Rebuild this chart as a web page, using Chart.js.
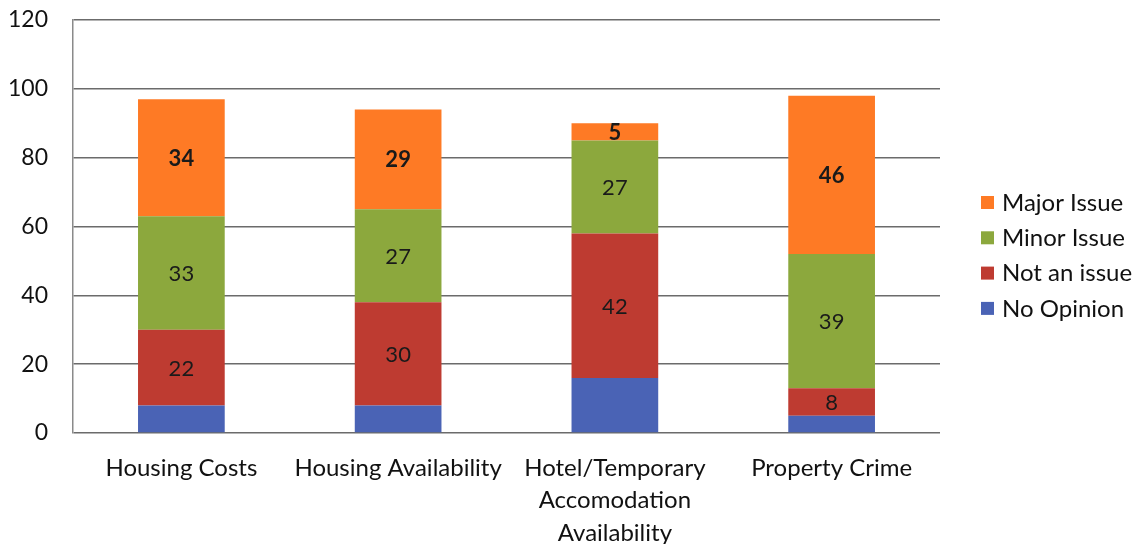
<!DOCTYPE html>
<html>
<head>
<meta charset="utf-8">
<script src="https://cdn.jsdelivr.net/npm/chart.js@4.4.1/dist/chart.umd.min.js"></script>
<style>
  html, body { margin: 0; padding: 0; background: #fff; }
  #wrap { width: 1134px; height: 544px; position: relative; }
</style>
</head>
<body>
<div id="wrap"><canvas id="issuesChart"></canvas></div>
<script>
// ------------------------------------
// Survey data
// ------------------------------------
const categories = [
    'Housing Costs',
    'Housing Availability',
    ['Hotel/Temporary', 'Accomodation', 'Availability'],
    'Property Crime'
];
const noOpinion  = [8, 8, 16, 5];
const notAnIssue = [22, 30, 42, 8];
const minorIssue = [33, 27, 27, 39];
const majorIssue = [34, 29, 5, 46];
const yTicks = [0, 20, 40, 60, 80, 100, 120];

const FONT = 'Lato, "Open Sans", sans-serif';

// ------------------------------------
// Value labels inside the stacked segments
// ------------------------------------
const segmentLabels = {
    id: 'segmentLabels',
    afterDatasetsDraw(chart) {
        const ctx = chart.ctx;
        chart.data.datasets.forEach((ds, i) => {
            if (!ds.showLabels) return;
            const meta = chart.getDatasetMeta(i);
            meta.data.forEach((bar, j) => {
                const mid = (bar.y + bar.base) / 2;
                ctx.save();
                ctx.font = (ds.boldLabels ? 'bold ' : '') + '22px ' + FONT;
                ctx.fillStyle = '#1a1a1a';
                ctx.textAlign = 'center';
                ctx.textBaseline = 'middle';
                ctx.fillText(ds.data[j], bar.x, mid + 1);
                ctx.restore();
            });
        });
    }
};

// ------------------------------------
// Legend on the right (top series first)
// ------------------------------------
const sideLegend = {
    id: 'sideLegend',
    afterDraw(chart) {
        const ctx = chart.ctx;
        const order = chart.data.datasets.slice().reverse();
        const x = 981, y0 = 202, step = 35.3;
        ctx.save();
        ctx.font = '24px ' + FONT;
        ctx.textBaseline = 'middle';
        ctx.textAlign = 'left';
        order.forEach((ds, k) => {
            const y = y0 + k * step;
            ctx.fillStyle = ds.backgroundColor;
            ctx.fillRect(x, y - 6, 13, 13);
            ctx.fillStyle = '#111';
            ctx.fillText(ds.label, x + 21, y + 1);
        });
        ctx.restore();
    }
};

function initChart() {
    const ctx = document.getElementById('issuesChart').getContext('2d');
    new Chart(ctx, {
        type: 'bar',
        data: {
            labels: categories,
            datasets: [
                { label: 'No Opinion', data: noOpinion, backgroundColor: '#4a63b5', showLabels: false },
                { label: 'Not an issue', data: notAnIssue, backgroundColor: '#be3b31', showLabels: true },
                { label: 'Minor Issue', data: minorIssue, backgroundColor: '#8ca83d', showLabels: true },
                { label: 'Major Issue', data: majorIssue, backgroundColor: '#fe7a25', showLabels: true, boldLabels: true }
            ]
        },
        options: {
            responsive: true,
            maintainAspectRatio: false,
            animation: false,
            layout: { padding: { top: 6, right: 194, left: 6, bottom: 0 } },
            datasets: {
                bar: { categoryPercentage: 0.8, barPercentage: 0.5 }
            },
            plugins: {
                legend: { display: false },
                tooltip: { enabled: false }
            },
            scales: {
                x: {
                    stacked: true,
                    grid: { display: false },
                    border: { display: false },
                    afterFit(axis) {
                        axis.height = 111;
                        axis.paddingLeft = 0;
                        axis.paddingRight = 0;
                    },
                    ticks: {
                        color: '#111',
                        font: { family: FONT, size: 24, lineHeight: 1.35 },
                        padding: 11,
                        maxRotation: 0
                    }
                },
                y: {
                    stacked: true,
                    min: 0,
                    max: 120,
                    afterBuildTicks(axis) {
                        axis.ticks = yTicks.map(v => ({ value: v }));
                    },
                    afterFit(axis) {
                        axis.width = 67;
                        axis.paddingTop = 20;
                        axis.paddingBottom = 0;
                    },
                    grid: { color: '#6b6b6b', lineWidth: 1.5, drawTicks: false },
                    border: { display: true, color: '#8a8a8a', width: 1.5 },
                    ticks: {
                        color: '#111',
                        font: { family: FONT, size: 23 },
                        padding: 25
                    }
                }
            }
        },
        plugins: [segmentLabels, sideLegend]
    });
}

window.onload = initChart;
</script>
</body>
</html>
